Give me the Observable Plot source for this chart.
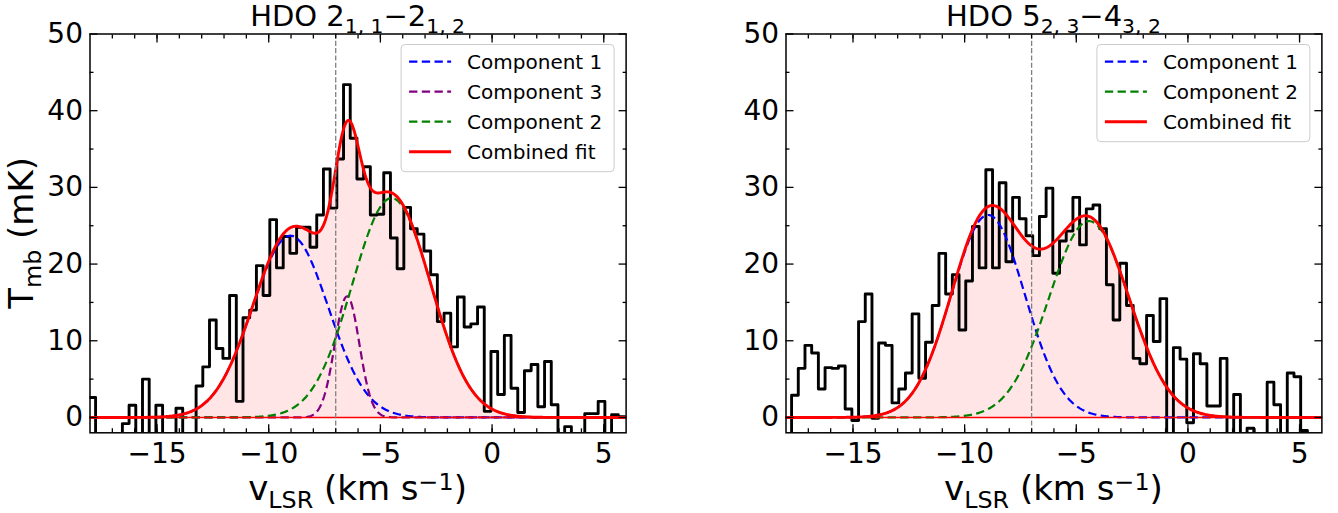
<!DOCTYPE html>
<html>
<head>
<meta charset="utf-8">
<script src="https://cdn.jsdelivr.net/npm/d3@7"></script>
<script src="https://cdn.jsdelivr.net/npm/@observablehq/plot@0.6"></script>
<style>
html, body { margin: 0; padding: 0; background: #fff; overflow: hidden; }
#wrap { position: relative; width: 1338px; height: 513px; font-family: "DejaVu Sans", sans-serif; }
#wrap svg { position: absolute; top: 0; }
text { white-space: pre; }
</style>
</head>
<body>
<div id="wrap"></div>
<script>
// ---------- data ----------
// channel velocities (km/s), bin centres
const velocity = [
  -17.9,-17.6,-17.3,-17.0,-16.7,-16.4,-16.1,-15.8,-15.5,-15.2,
  -14.9,-14.6,-14.3,-14.0,-13.7,-13.4,-13.1,-12.8,-12.5,-12.2,
  -11.9,-11.6,-11.3,-11.0,-10.7,-10.4,-10.1,-9.8,-9.5,-9.2,
  -8.9,-8.6,-8.3,-8.0,-7.7,-7.4,-7.1,-6.8,-6.5,-6.2,
  -5.9,-5.6,-5.3,-5.0,-4.7,-4.4,-4.1,-3.8,-3.5,-3.2,
  -2.9,-2.6,-2.3,-2.0,-1.7,-1.4,-1.1,-0.8,-0.5,-0.2,
  0.1,0.4,0.7,1.0,1.3,1.6,1.9,2.2,2.5,2.8,
  3.1,3.4,3.7,4.0,4.3,4.6,4.9,5.2,5.5,5.8,
  6.1
];
// HDO 2(1,1)-2(1,2) spectrum, T_mb (mK)
const tmb211 = [
  2.6,-3,-3,-3,-3,-0.8,1.6,-3,5.0,-3,
  1.6,-3,-3,1.2,-3,-3,4.1,6.6,12.7,9.0,
  7.7,15.9,2.1,13.0,14.0,19.8,15.9,25.8,19.5,23.6,
  21.4,24.8,24.8,22.2,26.4,32.4,27.3,33.7,43.4,36.4,
  31.1,32.7,26.4,26.5,31.9,23.4,19.4,27.4,24.6,23.9,
  21.7,18.6,12.5,13.6,9.2,15.7,11.8,12.2,14.4,0.8,
  8.6,3.0,10.7,3.8,0.65,6.1,6.9,1.4,7.3,1.65,
  -3,-1.2,-3,-3,0.5,0.5,2.1,-3,0.35,0.1,
  0.1
];
// HDO 5(2,3)-4(3,2) spectrum, T_mb (mK)
const tmb523 = [
  -3,2.9,6.4,9.4,8.4,3.7,6.5,6.4,6.7,1.1,
  -0.4,12.5,16.1,-0.1,9.7,9.4,1.9,3.7,5.8,13.5,
  5.1,9.8,14.6,21.4,16.1,18.6,11.4,17.8,24.9,19.5,
  32.3,19.5,30.6,20.3,28.7,25.9,23.7,21.1,26.2,29.9,
  18.8,23.0,24.3,28.7,22.5,27.2,27.7,24.6,17.3,12.7,
  20.1,14.6,7.7,7.0,13.3,9.9,15.5,-3,9.1,7.6,
  -0.7,8.3,7.0,1.5,1.5,7.7,-3,3.0,-3,-1.4,
  -3,-3,4.6,1.65,-3,5.8,5.3,-1.7,-3,-3,
  -3
];
// Gaussian components (legend order)
const comp211Names   = ["Component 1", "Component 3", "Component 2"];
const comp211Amp     = [23.7, 15.8, 28.6];
const comp211Center  = [-9.03, -6.49, -4.5];
const comp211Sigma   = [1.7, 0.55, 1.76];

const comp523Names   = ["Component 1", "Component 2"];
const comp523Amp     = [26.4, 25.6];
const comp523Center  = [-8.95, -4.43];
const comp523Sigma   = [1.65, 1.8];

const systemicVelocity = -7.0;

const xMajorTicks = [-15, -10, -5, 0, 5];
const xMinorTicks = [-17,-16,-15,-14,-13,-12,-11,-10,-9,-8,-7,-6,-5,-4,-3,-2,-1,0,1,2,3,4,5];
const yMajorTicks = [0, 10, 20, 30, 40, 50];
const yMinorTicks = [5, 15, 25, 35, 45];

// ---------- styles ----------
const colorOf = {"Component 1": "#0000ff", "Component 2": "#008000", "Component 3": "#800080", "Combined fit": "#ff0000"};
const FONT = '"DejaVu Sans", sans-serif';
const TICK_FS = 28, LABEL_FS = 34, TITLE_FS = 29, LEGEND_FS = 20;
const DASH = "8.3,4.4";

function gauss(x, a, m, s) { return a * Math.exp(-((x - m) ** 2) / (2 * s * s)); }
const tf = d => d < 0 ? "\u2212" + Math.abs(d) : String(d);

function rich(textSel, parts, fs) {
  let shift = 0;
  for (const [t, mode] of parts) {
    const target = mode === 1 ? 0.24 * fs : mode === 2 ? -0.3 * fs : 0;
    textSel.append("tspan").attr("dy", target - shift).attr("font-size", mode ? fs * 0.7 : fs).text(t);
    shift = target;
  }
}

function buildPanel(o) {
  const {T, names, amps, centers, sigmas, titleParts, yLabel, left, width, marginRight} = o;
  const marginLeft = 89.5, marginTop = 33.5, height = 513, marginBottom = 80.7;
  const half = (velocity[1] - velocity[0]) / 2;
  const outline = velocity.map((v, i) => ({x: v - half, y: T[i]}));
  outline.push({x: velocity[velocity.length - 1] + half, y: T[T.length - 1]});
  const grid = d3.range(-18, 6.0001, 0.04);
  const comps = names.map((name, j) => grid.map(x => ({x, y: gauss(x, amps[j], centers[j], sigmas[j]), name})));
  const total = grid.map((x, i) => ({x, y: d3.sum(comps, c => c[i].y)}));

  const axisCommon = {strokeWidth: 1.3, label: null};
  const svg = Plot.plot({
    width, height, marginLeft, marginRight, marginTop, marginBottom,
    x: {domain: [-18, 6]},
    y: {domain: [-2, 50]},
    style: {fontFamily: FONT, fontSize: TICK_FS + "px", color: "black", background: "transparent", overflow: "visible"},
    marks: [
      Plot.areaY(total, {x: "x", y1: 0, y2: "y", fill: "#ff0000", fillOpacity: 0.1, clip: true}),
      Plot.line(outline, {x: "x", y: "y", curve: "step-after", stroke: "black", strokeWidth: 2.9, clip: true}),
      ...comps.map((c, j) => Plot.line(c, {x: "x", y: "y", stroke: colorOf[names[j]], strokeWidth: 2.2, strokeDasharray: DASH, strokeLinecap: "butt", clip: true})),
      Plot.line(total, {x: "x", y: "y", stroke: "#ff0000", strokeWidth: 2.9, clip: true}),
      Plot.ruleY([0], {stroke: "#ff0000", strokeWidth: 1.4}),
      Plot.ruleX([systemicVelocity], {stroke: "#808080", strokeWidth: 1.3, strokeDasharray: "5.1,2.2"}),
      Plot.frame({stroke: "black", strokeWidth: 1.5}),
      Plot.axisX({...axisCommon, anchor: "bottom", ticks: xMajorTicks, tickSize: -8, tickPadding: 18, tickFormat: tf, fontSize: TICK_FS}),
      Plot.axisX({...axisCommon, anchor: "bottom", ticks: xMinorTicks, tickSize: -4, tickFormat: () => ""}),
      Plot.axisX({...axisCommon, anchor: "top", ticks: xMajorTicks, tickSize: -8, tickFormat: () => ""}),
      Plot.axisX({...axisCommon, anchor: "top", ticks: xMinorTicks, tickSize: -4, tickFormat: () => ""}),
      Plot.axisY({...axisCommon, anchor: "left", ticks: yMajorTicks, tickSize: -8, tickPadding: 15, tickFormat: tf, fontSize: TICK_FS}),
      Plot.axisY({...axisCommon, anchor: "left", ticks: yMinorTicks, tickSize: -4, tickFormat: () => ""}),
      Plot.axisY({...axisCommon, anchor: "right", ticks: yMajorTicks, tickSize: -8, tickFormat: () => ""}),
      Plot.axisY({...axisCommon, anchor: "right", ticks: yMinorTicks, tickSize: -4, tickFormat: () => ""})
    ]
  });
  svg.style.left = left + "px";
  document.getElementById("wrap").appendChild(svg);

  const s = d3.select(svg);
  const cx = marginLeft + (width - marginLeft - marginRight) / 2;
  const cy = marginTop + (height - marginTop - marginBottom) / 2;

  // title
  const t = s.append("text").attr("x", cx).attr("y", 26).attr("text-anchor", "middle")
    .attr("font-family", FONT).attr("font-size", TITLE_FS).attr("fill", "black");
  rich(t, titleParts, TITLE_FS);

  // x label
  const xl = s.append("text").attr("x", cx).attr("y", 500).attr("text-anchor", "middle")
    .attr("font-family", FONT).attr("font-size", LABEL_FS).attr("fill", "black");
  rich(xl, [["v", 0], ["LSR", 1], [" (km s", 0], ["\u22121", 2], [")", 0]], LABEL_FS);

  // y label
  if (yLabel) {
    const yl = s.append("text").attr("transform", `translate(33,${cy}) rotate(-90)`).attr("text-anchor", "middle")
      .attr("font-family", FONT).attr("font-size", LABEL_FS).attr("fill", "black");
    rich(yl, [["T", 0], ["mb", 1], [" (mK)", 0]], LABEL_FS);
  }

  // legend
  const entries = [...names, "Combined fit"];
  const frameRight = width - marginRight;
  const boxW = 213, rowH = 30, boxTop = 44.5, firstRow = 17.2;
  const boxX = frameRight - 11.5 - boxW;
  const boxH = firstRow + rowH * (entries.length - 1) + 20;
  const lg = s.append("g").attr("text-anchor", "start");
  lg.append("rect").attr("x", boxX).attr("y", boxTop).attr("width", boxW).attr("height", boxH)
    .attr("rx", 4).attr("fill", "white").attr("fill-opacity", 0.8).attr("stroke", "#cccccc").attr("stroke-width", 1);
  entries.forEach((name, i) => {
    const yy = boxTop + firstRow + i * rowH;
    const solid = name === "Combined fit";
    lg.append("line").attr("x1", boxX + 8).attr("x2", boxX + 50).attr("y1", yy).attr("y2", yy)
      .attr("stroke", colorOf[name]).attr("stroke-width", solid ? 2.9 : 2.2)
      .attr("stroke-dasharray", solid ? null : DASH);
    lg.append("text").attr("x", boxX + 66).attr("y", yy + 7.5).attr("text-anchor", "start")
      .attr("font-family", FONT).attr("font-size", LEGEND_FS).attr("fill", "black").text(name);
  });
}

buildPanel({
  T: tmb211, names: comp211Names, amps: comp211Amp, centers: comp211Center, sigmas: comp211Sigma,
  titleParts: [["HDO 2", 0], ["1, 1", 1], ["\u22122", 0], ["1, 2", 1]],
  yLabel: true, left: 0, width: 660, marginRight: 34.4
});
buildPanel({
  T: tmb523, names: comp523Names, amps: comp523Amp, centers: comp523Center, sigmas: comp523Sigma,
  titleParts: [["HDO 5", 0], ["2, 3", 1], ["\u22124", 0], ["3, 2", 1]],
  yLabel: false, left: 695.8, width: 642.2, marginRight: 16.8
});
</script>
</body>
</html>
